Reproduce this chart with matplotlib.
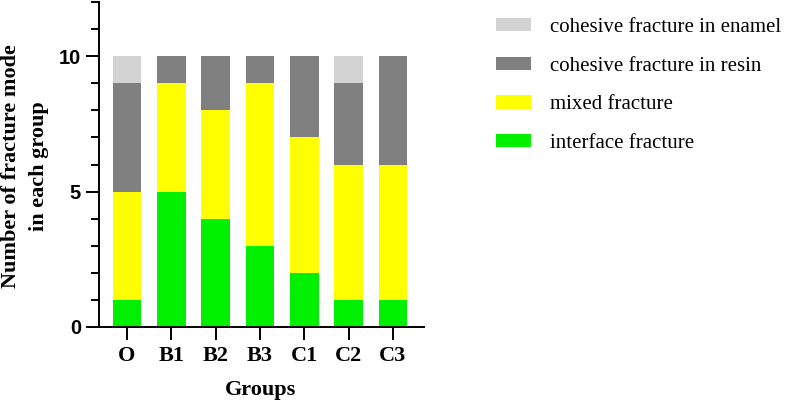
import numpy as np
import matplotlib
matplotlib.use("Agg")
from matplotlib import pyplot as plt
from matplotlib.patches import Patch

# %% data
groups = ["O", "B1", "B2", "B3", "C1", "C2", "C3"]
interface = [1, 5, 4, 3, 2, 1, 1]
mixed = [4, 4, 4, 6, 5, 5, 5]
resin = [4, 1, 2, 1, 3, 3, 4]
enamel = [1, 0, 0, 0, 0, 1, 0]

series_names = ["interface fracture", "mixed fracture",
                "cohesive fracture in resin", "cohesive fracture in enamel"]
series_colors = ["#00F000", "#FFFF00", "#808080", "#D3D3D3"]

# %% figure
serif = "Liberation Serif"
sans = "Liberation Sans"
fig = plt.figure(figsize=(7.99, 4.04), dpi=100)
ax = fig.add_axes([99/799, 1-327/404, 325/799, 325/404])

x = np.arange(len(groups))
bottom = np.zeros(len(groups))
handles = []
for vals, name, col in zip([interface, mixed, resin, enamel], series_names, series_colors):
    ax.bar(x, vals, width=0.65, bottom=bottom, color=col, edgecolor="none")
    bottom += np.array(vals)
    handles.append(Patch(facecolor=col, edgecolor="none", label=name))

ax.set_xlim(-0.63, 6.70)
ax.set_ylim(0, 12)
ax.set_yticks([0, 5, 10])
ax.set_yticks(range(0, 13), minor=True)
ax.set_xticks(x)
ax.set_xticklabels(groups, fontfamily=serif, fontweight="bold", fontsize=16)
for lab in ax.get_yticklabels():
    lab.set_fontfamily(sans)
    lab.set_fontweight("bold")
    lab.set_fontsize(14.5)

for s in ["top", "right"]:
    ax.spines[s].set_visible(False)
for s in ["left", "bottom"]:
    ax.spines[s].set_linewidth(1.4)
ax.tick_params(axis="y", which="major", length=9.4, width=1.4, pad=3.5)
ax.tick_params(axis="y", which="minor", length=6, width=1.4)
ax.tick_params(axis="x", which="major", length=9, width=1.4, pad=5)
ax.tick_params(axis="x", which="minor", length=0)

# axis titles
fig.text(25/799, 1-166/404, "Number of fracture mode\nin each group", rotation=90,
         ha="center", va="center", fontfamily=serif, fontweight="bold", fontsize=16,
         linespacing=1.5)
fig.text(261/799, 1-390/404, "Groups", ha="center", va="center",
         fontfamily=serif, fontweight="bold", fontsize=16)

# legend (enamel on top)
leg = fig.legend(handles=handles[::-1], loc="upper left", bbox_to_anchor=(477/799, 1+1/404),
                 frameon=False, prop={"family": serif, "size": 15},
                 handlelength=1.7, handleheight=0.6, labelspacing=0.95, handletextpad=0.9)

plt.savefig("out.png", dpi=100)
